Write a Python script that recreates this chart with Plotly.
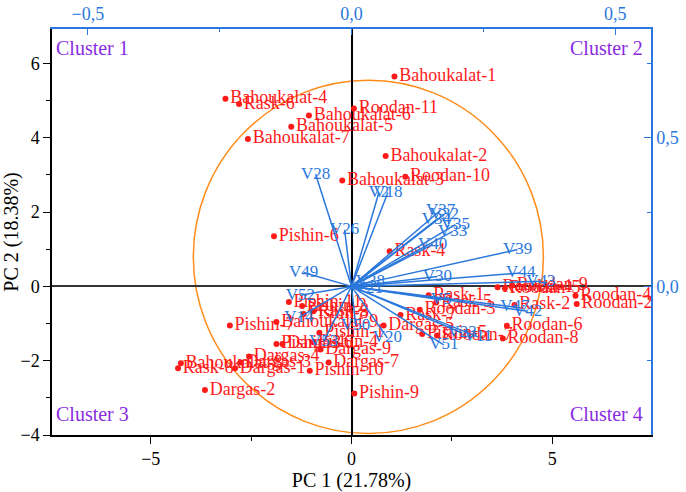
import plotly.graph_objects as go

# ---------------- data ----------------
sample_names = [
    "Bahoukalat-1", "Bahoukalat-4", "Rask-6", "Roodan-11", "Bahoukalat-6", "Bahoukalat-5",
    "Bahoukalat-7", "Bahoukalat-2", "Roodan-10", "Bahoukalat-3", "Pishin-6", "Rask-4",
    "Roodan-1", "Roodan-5", "Roodan-9", "Roodan-4", "Roodan-2", "Rask-2", "Roodan-6", "Roodan-8",
    "Rask-1", "Rask-5", "Roodan-3", "Rask-7", "Roodan-7", "Pishin-5", "Dargas-5",
    "Pishin-11", "Pishin-2", "Rask-3", "Pishin-8", "Bahoukalat-9", "Pishin-7", "Pishin-1",
    "Pishin-3", "Dargas-6", "Pishin-4", "Dargas-9", "Dargas-7", "Pishin-10", "Pishin-9",
    "Dargas-4", "Dargas-3", "Dargas-1", "Bahoukalat-8", "Rask-8", "Dargas-2",
]
pc1_scores = [
    1.07, -3.14, -2.80, 0.06, -1.06, -1.50,
    -2.58, 0.85, 1.34, -0.23, -1.93, 0.95,
    3.64, 3.82, 4.00, 5.58, 5.61, 4.06, 3.87, 3.77,
    1.92, 2.11, 1.70, 1.22, 2.13, 1.76, 0.80,
    -1.56, -1.23, -0.95, -1.19, -1.87, -3.03, -0.80,
    -1.87, -1.72, -0.95, -0.77, -0.57, -1.04, 0.07,
    -2.55, -2.76, -2.90, -4.25, -4.32, -3.65,
]
pc2_scores = [
    5.65, 5.05, 4.91, 4.79, 4.60, 4.30,
    3.97, 3.51, 2.95, 2.85, 1.35, 0.95,
    -0.02, -0.05, 0.03, -0.25, -0.47, -0.50, -1.06, -1.40,
    -0.24, -0.43, -0.63, -0.77, -1.32, -1.28, -1.05,
    -0.42, -0.53, -0.67, -0.74, -0.96, -1.05, -1.25,
    -1.55, -1.55, -1.50, -1.70, -2.05, -2.27, -2.88,
    -1.89, -2.05, -2.20, -2.07, -2.20, -2.79,
]

variable_names = [
    "V28", "V26", "V2", "V18", "V37", "V32", "V34", "V35", "V33", "V40",
    "V39", "V44", "V30", "V43", "V38", "V21", "V42", "V47", "V51", "V20",
    "V23", "V11", "V5", "V53", "V52", "V49", "V14", "V50",
]
load_pc1 = [
    -0.068, -0.013, 0.052, 0.069, 0.169, 0.176, 0.161, 0.197, 0.192, 0.154,
    0.315, 0.321, 0.163, 0.359, 0.036, 0.032, 0.334, 0.310, 0.175, 0.068,
    0.210, 0.240, 0.170, -0.053, -0.097, -0.091, -0.100, 0.008,
]
load_pc2 = [
    0.377, 0.190, 0.316, 0.316, 0.256, 0.242, 0.225, 0.208, 0.185, 0.141,
    0.124, 0.045, 0.033, 0.017, 0.016, -0.008, -0.084, -0.070, -0.197, -0.173,
    -0.157, -0.170, -0.045, -0.186, -0.030, 0.047, -0.105, -0.133,
]

x_ticks = [-5, 0, 5]
x_ticktext = ["\u22125", "0", "5"]
y_ticks = [-4, -2, 0, 2, 4, 6]
y_ticktext = ["\u22124", "\u22122", "0", "2", "4", "6"]
top_ticks = [-0.5, 0.0, 0.5]
top_ticktext = ["\u22120,5", "0,0", "0,5"]
right_ticks = [0.0, 0.5]
right_ticktext = ["0,0", "0,5"]

cluster_labels = ["Cluster 1", "Cluster 2", "Cluster 3", "Cluster 4"]

# ---------------- style ----------------
RED = "#ff1a1a"
BLUE = "#2a78dc"
ORANGE = "#ff8c1a"
PURPLE = "#8a2be2"
FONT = "Liberation Serif"

x_range = [-7.46, 7.46]
y_range = [-4.0, 6.93]
x2_range = [-0.568, 0.568]
y2_range = [-0.5, 0.866]

fig = go.Figure()

fig.add_trace(go.Scatter(
    x=pc1_scores, y=pc2_scores, text=sample_names,
    mode="markers+text", textposition="middle right",
    marker=dict(color=RED, size=6),
    textfont=dict(color=RED, size=18, family=FONT),
    xaxis="x", yaxis="y", showlegend=False, cliponaxis=False,
))

lx, ly = [], []
for a, b in zip(load_pc1, load_pc2):
    lx += [0, a, None]
    ly += [0, b, None]
fig.add_trace(go.Scatter(
    x=lx, y=ly, mode="lines", line=dict(color=BLUE, width=1.5),
    xaxis="x2", yaxis="y2", showlegend=False, hoverinfo="skip",
))
fig.add_trace(go.Scatter(
    x=load_pc1, y=load_pc2, text=variable_names, mode="text",
    textposition="middle center",
    textfont=dict(color=BLUE, size=17, family=FONT),
    xaxis="x2", yaxis="y2", showlegend=False,
))

# correlation circle (decorative)
circle_x = [-3.94, 4.78]
circle_y = [-3.96, 5.55]
fig.add_shape(type="circle", xref="x", yref="y",
              x0=circle_x[0], x1=circle_x[1], y0=circle_y[0], y1=circle_y[1],
              line=dict(color=ORANGE, width=1.5), layer="below")

fig.update_layout(
    width=686, height=492,
    margin=dict(l=52, r=35, t=29, b=57),
    plot_bgcolor="white", paper_bgcolor="white",
    font=dict(family=FONT, size=18, color="black"),
    xaxis=dict(
        range=x_range, tickvals=x_ticks, ticktext=x_ticktext, automargin=False,
        showline=True, linecolor="black", linewidth=1.5,
        ticks="outside", ticklen=7, tickwidth=1.2, tickcolor="black",
        minor=dict(tickvals=[-2.5, 2.5], ticks="outside", ticklen=4, tickcolor="black"),
        showgrid=False, zeroline=True, zerolinecolor="black", zerolinewidth=1.5,
        title=dict(text="PC 1 (21.78%)", font=dict(size=20), standoff=4),
        tickfont=dict(size=18),
    ),
    yaxis=dict(
        range=y_range, tickvals=y_ticks, ticktext=y_ticktext, automargin=False,
        showline=True, linecolor="black", linewidth=1.5,
        ticks="outside", ticklen=7, tickwidth=1.2, tickcolor="black",
        minor=dict(tickvals=[-3, -1, 1, 3, 5], ticks="outside", ticklen=4, tickcolor="black"),
        showgrid=False, zeroline=True, zerolinecolor="#333333", zerolinewidth=1.5,
        title=dict(text="PC 2 (18.38%)", font=dict(size=20), standoff=0),
        tickfont=dict(size=18),
    ),
    xaxis2=dict(
        range=x2_range, overlaying="x", side="top", automargin=False,
        tickvals=top_ticks, ticktext=top_ticktext,
        showline=True, linecolor=BLUE, linewidth=1.5,
        ticks="inside", ticklen=6, tickwidth=1.2, tickcolor=BLUE,
        minor=dict(tickvals=[-0.25, 0.25], ticks="inside", ticklen=3, tickcolor=BLUE),
        showgrid=False, zeroline=False,
        tickfont=dict(color=BLUE, size=18),
    ),
    yaxis2=dict(
        range=y2_range, overlaying="y", side="right", automargin=False,
        tickvals=right_ticks, ticktext=right_ticktext,
        showline=True, linecolor=BLUE, linewidth=1.5,
        ticks="inside", ticklen=7, tickwidth=1.2, tickcolor=BLUE,
        minor=dict(tickvals=[-0.25, 0.25, 0.75], ticks="inside", ticklen=4, tickcolor=BLUE),
        showgrid=False, zeroline=False,
        tickfont=dict(color=BLUE, size=18),
    ),
)

cl_pos = [(0.004, 0.985, "left", "top"), (0.99, 0.985, "right", "top"),
          (0.004, 0.02, "left", "bottom"), (0.99, 0.02, "right", "bottom")]
for label, (px, py, xa, ya) in zip(cluster_labels, cl_pos):
    fig.add_annotation(text=label, xref="x domain", yref="y domain", x=px, y=py,
                       xanchor=xa, yanchor=ya, showarrow=False,
                       font=dict(color=PURPLE, size=20, family=FONT))

fig.write_html("out.html")
